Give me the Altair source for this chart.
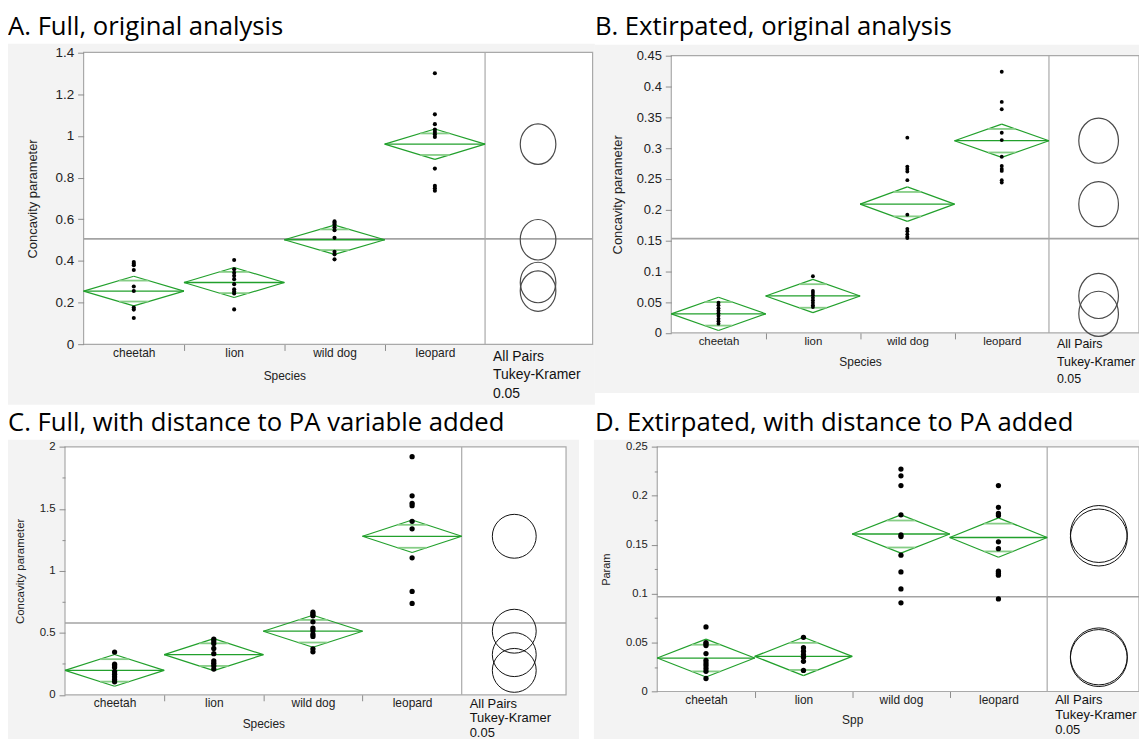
import json
import math
import altair as alt
import pandas as pd

# ---------------- data ----------------
SPECIES = ["cheetah", "lion", "wild dog", "leopard"]

# A. Full, original analysis
A_CHEETAH = [0.395, 0.387, 0.380, 0.357, 0.278, 0.256, 0.177, 0.167, 0.127]
A_LION = [0.405, 0.360, 0.344, 0.329, 0.313, 0.289, 0.265, 0.254, 0.244, 0.168]
A_WILDDOG = [0.590, 0.583, 0.576, 0.562, 0.548, 0.511, 0.444, 0.432, 0.408]
A_LEOPARD = [1.300, 1.103, 1.056, 1.030, 1.019, 1.008, 0.995, 0.843, 0.760, 0.749, 0.737]
A_MEANS = [0.256, 0.297, 0.502, 0.960]
A_CI = [0.071, 0.072, 0.070, 0.073]
A_GRAND = 0.506
A_RADIUS = 0.097
A_YTICKS = [0, 0.2, 0.4, 0.6, 0.8, 1.0, 1.2, 1.4]

# B. Extirpated, original analysis
B_CHEETAH = [0.049, 0.045, 0.040, 0.036, 0.032, 0.028, 0.023, 0.019, 0.015]
B_LION = [0.092, 0.068, 0.065, 0.061, 0.057, 0.053, 0.049, 0.045, 0.042]
B_WILDDOG = [0.317, 0.270, 0.266, 0.262, 0.248, 0.192, 0.169, 0.165, 0.160, 0.156, 0.154]
B_LEOPARD = [0.424, 0.375, 0.363, 0.325, 0.313, 0.286, 0.271, 0.266, 0.263, 0.248, 0.244]
B_MEANS = [0.031, 0.060, 0.209, 0.312]
B_CI = [0.027, 0.027, 0.028, 0.027]
B_GRAND = 0.153
B_RADIUS = 0.0366
B_YTICKS = [0, 0.05, 0.1, 0.15, 0.2, 0.25, 0.3, 0.35, 0.4, 0.45]

# C. Full, with distance to PA variable added
C_CHEETAH = [0.345, 0.247, 0.234, 0.221, 0.187, 0.166, 0.145, 0.124, 0.105]
C_LION = [0.450, 0.434, 0.413, 0.374, 0.332, 0.274, 0.255, 0.234, 0.208]
C_WILDDOG = [0.666, 0.650, 0.637, 0.589, 0.537, 0.518, 0.489, 0.471, 0.371, 0.347]
C_LEOPARD = [1.921, 1.605, 1.545, 1.526, 1.400, 1.339, 1.105, 0.834, 0.737]
C_MEANS = [0.197, 0.324, 0.513, 1.279]
C_CI = [0.128, 0.129, 0.129, 0.131]
C_GRAND = 0.579
C_RADIUS = 0.177
C_YTICKS = [0, 0.25, 0.5, 0.75, 1.0, 1.25, 1.5, 1.75, 2.0]

# D. Extirpated, with distance to PA added
D_CHEETAH = [0.066, 0.050, 0.0488, 0.047, 0.0388, 0.0319, 0.0292, 0.0266, 0.0236, 0.0206, 0.0133]
D_LION = [0.0554, 0.0448, 0.0412, 0.0378, 0.0349, 0.0309, 0.0216]
D_WILDDOG = [0.2274, 0.2205, 0.2105, 0.1806, 0.160, 0.1584, 0.1394, 0.1222, 0.1049, 0.0906]
D_LEOPARD = [0.2105, 0.1882, 0.182, 0.180, 0.153, 0.146, 0.123, 0.121, 0.1189, 0.0946]
D_MEANS = [0.0342, 0.0359, 0.161, 0.1574]
D_CI = [0.0193, 0.0196, 0.0195, 0.0201]
D_GRAND = 0.0969
D_RADIUS = 0.0291
D_YTICKS = [0, 0.025, 0.05, 0.075, 0.1, 0.125, 0.15, 0.175, 0.2, 0.225, 0.25]

# ---------------- styling / layout ----------------
FONT = "Liberation Sans"
TITLE_FONT = "Open Sans"
GREEN = "#22a02c"
GREEN_LIGHT = "#86cd86"
GRAY_BG = "#f3f3f3"
FRAME = "#a9a9a9"
VIEW_W, VIEW_H = 1137, 733


def ellipse(k):
    return f"M {k} 0 A {k} 1 0 1 1 {-k} 0 A {k} 1 0 1 1 {k} 0 Z"


# pixel frame of every panel inside the single view
LAYOUT = {
    "A": dict(x0=76, x1=587.7, yt=42.7, yb=336.3, comp=1.0714, cx=0.528,
              gray=(0, 590, 34, 397), title=(0, 25), ytx=-51.4, xtx=277.8, xty=31.7,
              ylab=13.5, xlab=12, ytfs=13, tk=(352.7, 18.7, 14), pt=17,
              shape=ellipse(0.88), ccol="#4a4a4a", cw=1.2),
    "B": dict(x0=666.8, x1=1137, yt=46, yb=324.7, comp=0.9536, cx=0.526,
              gray=(590, 1137, 35, 385), title=(590, 25), ytx=-53.9, xtx=856.6, xty=29,
              ylab=13, xlab=11.5, ytfs=13, tk=(340.3, 17.5, 12.5), pt=15,
              shape=ellipse(0.88), ccol="#4a4a4a", cw=1.2),
    "C": dict(x0=57.3, x1=561, yt=439.3, yb=688.5, comp=1.052, cx=0.53,
              gray=(0, 574, 432, 733), title=(0, 423), ytx=-44.3, xtx=256.7, xty=29,
              ylab=11.5, xlab=12, ytfs=11.5, tk=(701.5, 14.75, 13), pt=28,
              shape="circle", ccol="#111111", cw=1.0),
    "D": dict(x0=652.7, x1=1137, yt=439.3, yb=685.2, comp=0.942, cx=0.53,
              gray=(589, 1137, 432, 733), title=(590, 423), ytx=-50.7, xtx=848.7, xty=28,
              ylab=11.3, xlab=12, ytfs=11, tk=(697.5, 15.3, 13), pt=28,
              shape="circle", ccol="#111111", cw=1.0),
}


def make_panel(title, groups, means, ci, grand, radius, yticks, minor_mult, ytitle, xtitle, L):
    xmax = 4 + L["comp"]
    ymax = yticks[-1]
    H = L["yb"] - L["yt"]
    xs = alt.Scale(domain=[0, xmax], range=[L["x0"], L["x1"]], nice=False, zero=False)
    ys = alt.Scale(domain=[0, ymax], range=[L["yb"], L["yt"]], nice=False, zero=False)
    names = json.dumps(SPECIES).replace('"', "'")
    x_axis = alt.Axis(
        orient="bottom", offset=-(VIEW_H - L["yb"]),
        values=[0.5, 1, 1.5, 2, 2.5, 3, 3.5],
        labelExpr=f"datum.value % 1 == 0.5 ? {names}[floor(datum.value)] : ''",
        tickOpacity={"condition": {"test": "datum.value % 1 != 0", "value": 0}, "value": 1},
        tickSize=6, tickColor="#8c8c8c", tickWidth=1,
        domain=False, grid=False, labelOverlap=False, labelFlush=False, labelBound=False,
        labelPadding=-3, labelFont=FONT, labelFontSize=L["xlab"], labelColor="#222222",
        title=xtitle, titleX=L["xtx"], titleY=L["xty"], titleBaseline="middle",
        titleAlign="center", titleFont=FONT, titleFontSize=12, titleFontWeight="normal",
        titleColor="#222222", zindex=1,
    )
    ykw = dict(
        orient="left", offset=-L["x0"],
        values=yticks, format="~g", tickSize=6, tickColor="#8c8c8c", tickWidth=1,
        domain=False, grid=False, labelOverlap=False, labelFlush=False, labelBound=False,
        labelPadding=4, labelFont=FONT, labelFontSize=L["ylab"], labelColor="#222222",
        title=ytitle, titleX=L["ytx"], titleY=(L["yt"] + L["yb"]) / 2, titleBaseline="middle",
        titleAlign="center", titleAngle=270, titleFont=FONT, titleFontSize=L["ytfs"],
        titleFontWeight="normal", titleColor="#222222", zindex=1,
    )
    if minor_mult:
        test = f"abs(datum.value*{minor_mult} - round(datum.value*{minor_mult})) > 0.000001"
        ykw["labelExpr"] = f"{test} ? '' : datum.label"
        ykw["tickSize"] = {"condition": {"test": test, "value": 3}, "value": 6}
    y_axis = alt.Axis(**ykw)

    def X(f):
        return alt.X(f"{f}:Q", scale=xs, axis=x_axis)

    def Y(f):
        return alt.Y(f"{f}:Q", scale=ys, axis=y_axis)

    one = pd.DataFrame({"k": [0]})
    gx1, gx2, gy1, gy2 = L["gray"]
    bg = alt.Chart(one).mark_rect(color=GRAY_BG).encode(
        x=alt.value(gx1), x2=alt.value(gx2), y=alt.value(gy1), y2=alt.value(gy2))

    fdf = pd.DataFrame({"x": [0], "x2": [xmax], "y": [0], "y2": [ymax]})
    frame = alt.Chart(fdf).mark_rect(fill="white", stroke=FRAME, strokeWidth=1.2).encode(
        x=X("x"), x2=alt.X2("x2"), y=Y("y"), y2=alt.Y2("y2"))

    gdf = pd.DataFrame({"x": [0], "x2": [xmax], "y": [grand]})
    grand_rule = alt.Chart(gdf).mark_rule(color="#a3a3a3", strokeWidth=1.6).encode(
        x=X("x"), x2=alt.X2("x2"), y=Y("y"))
    ddf = pd.DataFrame({"x": [4], "y": [0], "y2": [ymax]})
    divider = alt.Chart(ddf).mark_rule(color=FRAME, strokeWidth=1.2).encode(
        x=X("x"), y=Y("y"), y2=alt.Y2("y2"))

    edges, mlines, marks, pts, circ = [], [], [], [], []
    hw = 0.5 * (1 - 1 / math.sqrt(2))
    for i, (m, c) in enumerate(zip(means, ci)):
        l, cx, r = i, i + 0.5, i + 1
        for seg in [(l, m, cx, m + c), (cx, m + c, r, m), (r, m, cx, m - c), (cx, m - c, l, m)]:
            edges.append(dict(x=seg[0], y=seg[1], x2=seg[2], y2=seg[3]))
        mlines.append(dict(x=l, x2=r, y=m))
        d = c / math.sqrt(2)
        for yy in (m + d, m - d):
            marks.append(dict(x=cx - hw, y=yy, x2=cx + hw))
        for v in groups[i]:
            pts.append(dict(x=cx, y=v))
        circ.append(dict(x=4 + L["cx"], y=m, r=radius))

    diam = alt.Chart(pd.DataFrame(edges)).mark_rule(color=GREEN, strokeWidth=1.2).encode(
        x=X("x"), y=Y("y"), x2=alt.X2("x2"), y2=alt.Y2("y2"))
    over = alt.Chart(pd.DataFrame(marks)).mark_rule(color=GREEN_LIGHT, strokeWidth=1.8).encode(
        x=X("x"), y=Y("y"), x2=alt.X2("x2"))
    meanl = alt.Chart(pd.DataFrame(mlines)).mark_rule(color=GREEN, strokeWidth=1.3).encode(
        x=X("x"), y=Y("y"), x2=alt.X2("x2"))
    points = alt.Chart(pd.DataFrame(pts)).mark_circle(color="black", size=L["pt"], opacity=1).encode(
        x=X("x"), y=Y("y"))
    circles = alt.Chart(pd.DataFrame(circ)).mark_point(
        shape=L["shape"], filled=False, color=L["ccol"], strokeWidth=L["cw"], opacity=1
    ).encode(
        x=X("x"), y=Y("y"),
        size=alt.Size("r:Q", scale=alt.Scale(type="pow", exponent=2, domain=[0, ymax],
                                              range=[0, (2 * H) ** 2]), legend=None))
    b0, lh, fs = L["tk"]
    tk = alt.Chart(pd.DataFrame({"x": [4]})).mark_text(
        align="left", baseline="alphabetic", dx=8, lineBreak="\n", lineHeight=lh,
        fontSize=fs, font=FONT, color="#111111"
    ).encode(x=X("x"), y=alt.value(b0),
             text=alt.value("All Pairs\nTukey-Kramer\n\u00a00.05"))
    ttl = alt.Chart(one).mark_text(
        align="left", baseline="alphabetic", font=TITLE_FONT, fontSize=25.8, color="black"
    ).encode(x=alt.value(L["title"][0]), y=alt.value(L["title"][1]), text=alt.value(title))

    return alt.layer(bg, frame, grand_rule, divider, diam, meanl, over, points, circles, tk, ttl)


pA = make_panel("A. Full, original analysis", [A_CHEETAH, A_LION, A_WILDDOG, A_LEOPARD],
                A_MEANS, A_CI, A_GRAND, A_RADIUS, A_YTICKS, None,
                "Concavity parameter", "Species", LAYOUT["A"])
pB = make_panel("B. Extirpated, original analysis", [B_CHEETAH, B_LION, B_WILDDOG, B_LEOPARD],
                B_MEANS, B_CI, B_GRAND, B_RADIUS, B_YTICKS, None,
                "Concavity parameter", "Species", LAYOUT["B"])
pC = make_panel("C. Full, with distance to PA variable added", [C_CHEETAH, C_LION, C_WILDDOG, C_LEOPARD],
                C_MEANS, C_CI, C_GRAND, C_RADIUS, C_YTICKS, 2,
                "Concavity parameter", "Species", LAYOUT["C"])
pD = make_panel("D. Extirpated, with distance to PA added", [D_CHEETAH, D_LION, D_WILDDOG, D_LEOPARD],
                D_MEANS, D_CI, D_GRAND, D_RADIUS, D_YTICKS, 20,
                "Param", "Spp", LAYOUT["D"])

chart = alt.layer(pA, pB, pC, pD).resolve_scale(
    x="independent", y="independent", size="independent"
).resolve_axis(
    x="independent", y="independent"
).properties(
    width=VIEW_W, height=VIEW_H,
    autosize=alt.AutoSizeParams(type="none"),
    padding=0,
    background="white",
).configure_view(stroke=None)

chart.save("out.html", embed_options={"renderer": "svg", "actions": False})
